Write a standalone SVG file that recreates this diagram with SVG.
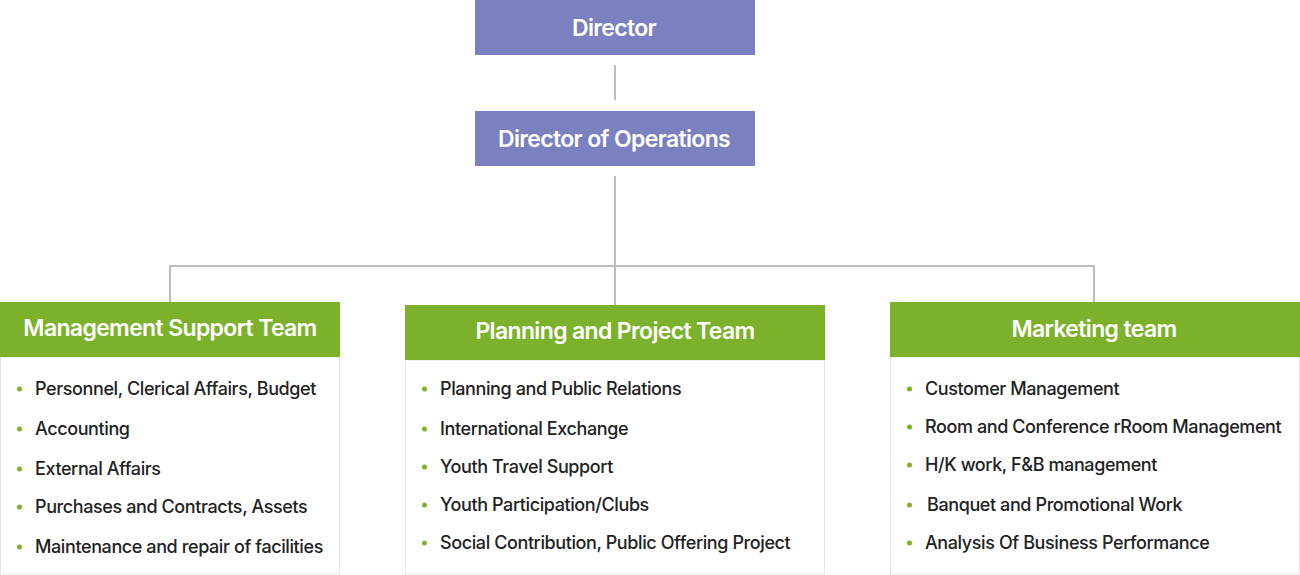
<svg xmlns="http://www.w3.org/2000/svg" width="1300" height="575" viewBox="0 0 1300 575">
<style>
.top{fill:#7b81c0}
.hdr{fill:#7cb22b}
.body{fill:#ffffff;stroke:#e6e6e6;stroke-width:1}
.tt{font-family:Inter,"Noto Sans",sans-serif;font-size:23px;font-weight:600;fill:#ffffff;text-anchor:middle;letter-spacing:-0.65px}
.it{font-family:Inter,"Noto Sans",sans-serif;font-size:18px;font-weight:500;fill:#222222;letter-spacing:-0.4px}
.bl{fill:#7cb22b}
.cn{stroke:#bdbdbd;stroke-width:2;fill:none}
</style>
<rect width="1300" height="575" fill="#ffffff"/>
<g id="connectors">
<line class="cn" x1="615" y1="65" x2="615" y2="100"/>
<line class="cn" x1="615" y1="176" x2="615" y2="305"/>
<polyline class="cn" points="170,302 170,266 1094,266 1094,302"/>
</g>
<g id="director">
<rect class="top" x="475" y="0" width="280" height="55"/>
<text class="tt" x="614" y="36">Director</text>
</g>
<g id="director-ops">
<rect class="top" x="475" y="111" width="280" height="55"/>
<text class="tt" x="614" y="147">Director of Operations</text>
</g>
<g id="management-support">
<rect class="body" x="0.5" y="357" width="339" height="217"/>
<rect class="hdr" x="0" y="302" width="340" height="55"/>
<text class="tt" x="170" y="336">Management Support Team</text>
<circle class="bl" cx="19.5" cy="389" r="2.5"/><text class="it" x="35" y="395">Personnel, Clerical Affairs, Budget</text>
<circle class="bl" cx="19.5" cy="429" r="2.5"/><text class="it" x="35" y="435">Accounting</text>
<circle class="bl" cx="19.5" cy="469" r="2.5"/><text class="it" x="35" y="475">External Affairs</text>
<circle class="bl" cx="19.5" cy="507" r="2.5"/><text class="it" x="35" y="513">Purchases and Contracts, Assets</text>
<circle class="bl" cx="19.5" cy="547" r="2.5"/><text class="it" x="35" y="553">Maintenance and repair of facilities</text>
</g>
<g id="planning-project">
<rect class="body" x="405.5" y="360" width="419" height="214"/>
<rect class="hdr" x="405" y="305" width="420" height="55"/>
<text class="tt" x="615" y="339">Planning and Project Team</text>
<circle class="bl" cx="424.5" cy="389" r="2.5"/><text class="it" x="440" y="395">Planning and Public Relations</text>
<circle class="bl" cx="424.5" cy="429" r="2.5"/><text class="it" x="440" y="435">International Exchange</text>
<circle class="bl" cx="424.5" cy="467" r="2.5"/><text class="it" x="440" y="473">Youth Travel Support</text>
<circle class="bl" cx="424.5" cy="505" r="2.5"/><text class="it" x="440" y="511">Youth Participation/Clubs</text>
<circle class="bl" cx="424.5" cy="543" r="2.5"/><text class="it" x="440" y="549">Social Contribution, Public Offering Project</text>
</g>
<g id="marketing">
<rect class="body" x="890.5" y="357" width="409" height="217"/>
<rect class="hdr" x="890" y="302" width="410" height="55"/>
<text class="tt" x="1094" y="337">Marketing team</text>
<circle class="bl" cx="909.5" cy="389" r="2.5"/><text class="it" x="925" y="395">Customer Management</text>
<circle class="bl" cx="909.5" cy="427" r="2.5"/><text class="it" x="925" y="433">Room and Conference rRoom Management</text>
<circle class="bl" cx="909.5" cy="465" r="2.5"/><text class="it" x="925" y="471">H/K work, F&amp;B management</text>
<circle class="bl" cx="909.5" cy="505" r="2.5"/><text class="it" x="927" y="511">Banquet and Promotional Work</text>
<circle class="bl" cx="909.5" cy="543" r="2.5"/><text class="it" x="925" y="549">Analysis Of Business Performance</text>
</g>
</svg>
